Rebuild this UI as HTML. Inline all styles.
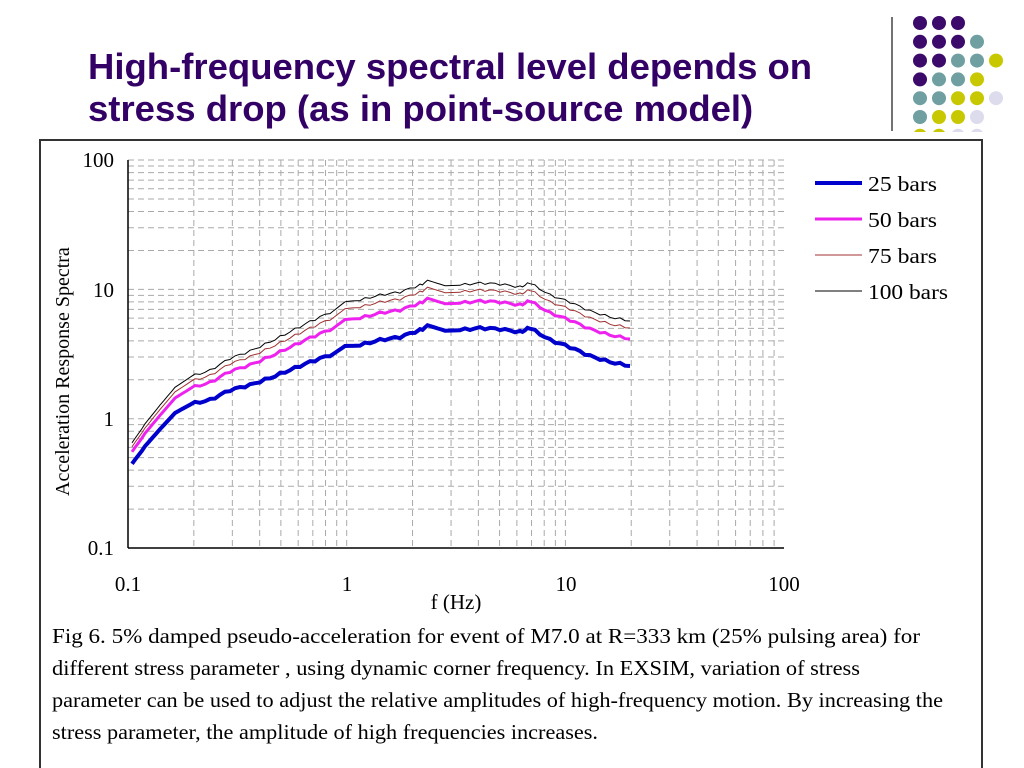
<!DOCTYPE html>
<html><head><meta charset="utf-8"><style>
body{margin:0;width:1024px;height:768px;background:#fff;overflow:hidden;position:relative;font-family:"Liberation Sans",sans-serif}
.t{position:absolute;left:88px;color:#330066;font-weight:bold;font-size:36.5px;line-height:42px;top:46px;white-space:nowrap}
</style></head><body>
<div class="t">High-frequency spectral level depends on<br>stress drop (as in point-source model)</div>
<svg id="s" width="1024" height="768" style="position:absolute;left:0;top:0" font-family="Liberation Serif,serif">
<line x1="892" y1="17" x2="892" y2="131" stroke="#444" stroke-width="1.5"/>
<clipPath id="dc"><rect x="900" y="0" width="124" height="132"/></clipPath>
<g id="dots" clip-path="url(#dc)"></g>
<rect x="40" y="140" width="942" height="640" fill="#fff" stroke="#333" stroke-width="2"/>
<g id="grid"></g>
<line x1="128" y1="160" x2="128" y2="548" stroke="#000" stroke-width="1.5"/>
<line x1="128" y1="548" x2="784" y2="548" stroke="#000" stroke-width="1.5"/>
<g font-size="21" fill="#000">
<text x="114" y="167" text-anchor="end">100</text>
<text x="114" y="297" text-anchor="end">10</text>
<text x="114" y="426" text-anchor="end">1</text>
<text x="114" y="555" text-anchor="end">0.1</text>
<text x="128" y="591" text-anchor="middle">0.1</text>
<text x="347" y="591" text-anchor="middle">1</text>
<text x="566" y="591" text-anchor="middle">10</text>
<text x="784" y="591" text-anchor="middle">100</text>
<text x="456" y="609" text-anchor="middle">f (Hz)</text>
<clipPath id="c"><rect x="40" y="200" width="40" height="296"/></clipPath>
<g clip-path="url(#c)"><text transform="translate(69,496) rotate(-90)" font-size="20">Acceleration Response Spectra</text></g>
<text x="868" y="191" textLength="69" lengthAdjust="spacingAndGlyphs">25 bars</text><text x="868" y="227" textLength="69" lengthAdjust="spacingAndGlyphs">50 bars</text>
<text x="868" y="263" textLength="69" lengthAdjust="spacingAndGlyphs">75 bars</text><text x="868" y="299" textLength="80" lengthAdjust="spacingAndGlyphs">100 bars</text>
<g font-size="21">
<text x="52" y="643" textLength="868" lengthAdjust="spacingAndGlyphs">Fig 6.  5% damped pseudo-acceleration for event of M7.0 at R=333 km (25% pulsing area) for</text>
<text x="52" y="675" textLength="808" lengthAdjust="spacingAndGlyphs">different stress parameter , using dynamic corner frequency. In EXSIM, variation of stress</text>
<text x="52" y="707" textLength="891" lengthAdjust="spacingAndGlyphs">parameter can be used to adjust the relative amplitudes of high-frequency motion. By increasing the</text>
<text x="52" y="739" textLength="546" lengthAdjust="spacingAndGlyphs">stress parameter, the amplitude of high frequencies increases.</text>
</g>
</g>
<line x1="815" y1="183" x2="862" y2="183" stroke="#0000cc" stroke-width="4"/>
<line x1="815" y1="219" x2="862" y2="219" stroke="#ee22ee" stroke-width="3"/>
<line x1="815" y1="255" x2="862" y2="255" stroke="#a03030" stroke-width="1"/>
<line x1="815" y1="291" x2="862" y2="291" stroke="#000" stroke-width="1"/>
<g id="curves"></g>
</svg>
<script>
var NS="http://www.w3.org/2000/svg";
function el(p,t,a){var e=document.createElementNS(NS,t);for(var k in a)e.setAttribute(k,a[k]);document.getElementById(p).appendChild(e);}
var P="#3b0a6a",T="#6f9fa0",Y="#c8c800",L="#dcdcec";
var rows=[[P,P,P],[P,P,P,T],[P,P,T,T,Y],[P,T,T,Y],[T,T,Y,Y,L],[T,Y,Y,L],[Y,Y,L,L]];
rows.forEach(function(r,i){r.forEach(function(c,j){el("dots","circle",{cx:920+j*19,cy:23+i*18.8,r:7,fill:c});});});
var g="grid";
for(var d=0;d<3;d++)for(var m=1;m<10;m++){var x=128+218.7*(d+Math.log10(m));if(d==0&&m==1)continue;
el(g,"line",{x1:x,y1:160,x2:x,y2:548,stroke:"#aaa","stroke-dasharray":"6,4","stroke-width":1});}
for(var d=0;d<3;d++)for(var m=1;m<10;m++){var y=548-129.3*(d+Math.log10(m));if(d==0&&m==1)continue;
el(g,"line",{x1:128,y1:y,x2:784,y2:y,stroke:"#aaa","stroke-dasharray":"6,4","stroke-width":1});}
el(g,"line",{x1:128,y1:160,x2:784,y2:160,stroke:"#aaa","stroke-dasharray":"6,4"});
var B=[[132,465],[145,445],[160,428],[175,412],[190,404],[210,400],[230,390],[250,385],[270,378],[290,370],[310,362],[330,355],[345,345],[360,345],[380,340],[400,337],[420,330],[430,325],[445,330],[460,330],[480,328],[500,329],[520,332],[530,328],[550,340],[570,347],[590,356],[610,362],[630,366]];
function off(x,a,b){var t=Math.min(1,Math.max(0,(x-132)/220));return a+(b-a)*t;}
var specs=[["#000",1,-21,-45],["#a03030",1,-17,-38],["#ee22ee",3,-12,-27],["#0000cc",4,0,0]];
specs.forEach(function(s){var d="";for(var i=0;i<B.length-1;i++){for(var k=0;k<4;k++){var x=B[i][0]+(B[i+1][0]-B[i][0])*k/4,y=B[i][1]+(B[i+1][1]-B[i][1])*k/4;
var j=Math.sin(x*1.7)*1.2;d+=(d?"L":"M")+x.toFixed(1)+","+(y+off(x,s[2],s[3])+j).toFixed(1);}}
var l=B[B.length-1];d+="L"+l[0]+","+(l[1]+off(l[0],s[2],s[3]));
el("curves","path",{d:d,fill:"none",stroke:s[0],"stroke-width":s[1]});});
</script>
</body></html>
